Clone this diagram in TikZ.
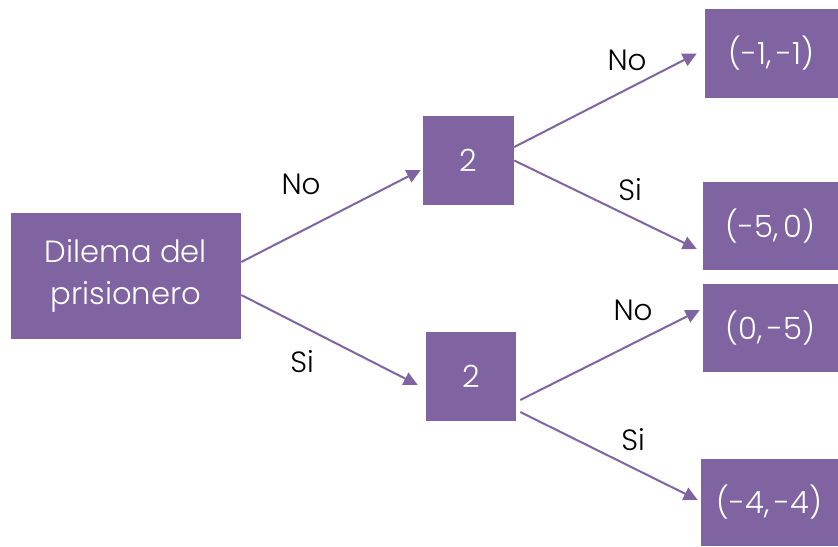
\documentclass[tikz,border=0pt]{standalone}
\usepackage{fontspec}
\setmainfont{Poppins Light}
\usetikzlibrary{arrows.meta,calc}
\definecolor{plum}{HTML}{8064A2}
\tikzset{
  box/.style={fill=plum, text=white, inner sep=0pt, align=center, font=\fontsize{23}{31.5}\selectfont},
  edge/.style={draw=plum, line width=1.5pt, -{Triangle[length=10.5pt, width=10pt]}},
  lbl/.style={text=black, font=\fontsize{22}{26}\selectfont}
}
\begin{document}
\begin{tikzpicture}[x=0.75pt, y=-0.75pt]
  \useasboundingbox (0,0) rectangle (838,546);
  % game tree boxes
  \node[box, minimum width=172.5pt, minimum height=94.5pt] (root) at (126,276) {Dilema del\\prisionero};
  \node[box, minimum width=68.25pt, minimum height=66.75pt] (t2) at (468.5,160.5) {2};
  \node[box, minimum width=67.5pt, minimum height=66.75pt] (b2) at (471,376.5) {2};
  \node[box, minimum width=99.75pt, minimum height=66.75pt] (o1) at (771.5,53.5) {(-1,\,-1)};
  \node[box, minimum width=101.25pt, minimum height=66pt] (o2) at (770.5,226) {(-5,\,0)};
  \node[box, minimum width=101.25pt, minimum height=66pt] (o3) at (770.5,328) {(0,\,-5)};
  \node[box, minimum width=102.75pt, minimum height=65.25pt] (o4) at (769.5,502.5) {(-4,\,-4)};
  % branches
  \draw[edge] ($(root.east)+(0,-14)$) -- ($(t2.west)+(-2,9.5)$);
  \draw[edge] ($(root.east)+(0,19)$) -- ($(b2.west)+(-8,8.5)$);
  \draw[edge] ($(t2.east)+(0,-13.5)$) -- ($(o1.west)+(-8,0)$);
  \draw[edge] (t2.east) -- ($(o2.west)+(-6,23)$);
  \draw[edge] ($(b2.east)+(4,23.5)$) -- ($(o3.west)+(-3,-18)$);
  \draw[edge] ($(b2.east)+(4,35.5)$) -- ($(o4.west)+(-3,-2.5)$);
  % branch labels
  \node[lbl] (l1) at (301,184) {No};
  \node[lbl] (l2) at (302,362) {Si};
  \node[lbl] (l3) at (627,60) {No};
  \node[lbl] (l4) at (630,190) {Si};
  \node[lbl] (l5) at (633,310) {No};
  \node[lbl] (l6) at (633,440) {Si};
\end{tikzpicture}
\end{document}
